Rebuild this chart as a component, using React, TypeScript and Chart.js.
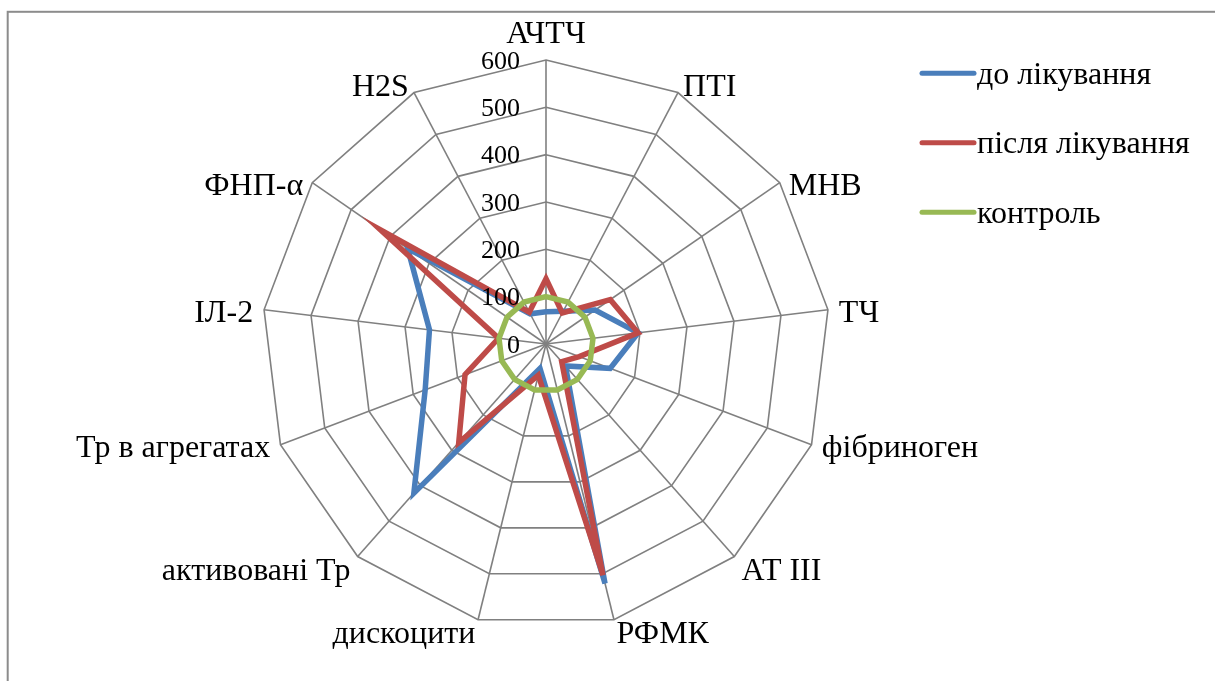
import React, { useEffect, useRef } from "react";
import { Chart, registerables } from "chart.js";

Chart.register(...registerables);

// Radar axes (clockwise from the top)
const categories: string[] = [
  "АЧТЧ",
  "ПТІ",
  "МНВ",
  "ТЧ",
  "фібриноген",
  "АТ III",
  "РФМК",
  "дискоцити",
  "активовані Тр",
  "Тр в агрегатах",
  "ІЛ-2",
  "ФНП-α",
  "H2S",
];

const beforeTreatment: number[] = [68, 78, 126, 196, 145, 62, 521, 53, 421, 273, 248, 355, 72];
const afterTreatment: number[] = [138, 74, 165, 196, 75, 50, 503, 68, 278, 183, 101, 425, 76];
const control: number[] = [100, 100, 100, 100, 100, 100, 100, 100, 100, 100, 100, 100, 100];

const seriesNames: string[] = ["до лікування", "після лікування", "контроль"];
const seriesColors: string[] = ["#4A7EBB", "#BE4B48", "#98B954"];

const tickValues: number[] = [0, 100, 200, 300, 400, 500, 600];
const axisMin = 0;
const axisMax = 600;
const axisStep = 100;

const SERIF = "'Times New Roman', 'Liberation Serif', serif";
const LABEL_SIZE = 32;
const TICK_SIZE = 26;

// Outer frame around the whole chart
const framePlugin = {
  id: "frame",
  beforeDraw(chart: any) {
    const ctx = chart.ctx;
    ctx.save();
    ctx.fillStyle = "#ffffff";
    ctx.fillRect(0, 0, chart.width, chart.height);
    ctx.strokeStyle = "#8c8c8c";
    ctx.lineWidth = 2;
    ctx.strokeRect(7.7, 11.8, chart.width + 50, chart.height + 50);
    ctx.restore();
  },
};

// Value labels placed to the left of the vertical axis
const tickLabelPlugin = {
  id: "tickLabels",
  afterDraw(chart: any) {
    const scale = chart.scales.r;
    const ctx = chart.ctx;
    ctx.save();
    ctx.font = `${TICK_SIZE}px ${SERIF}`;
    ctx.fillStyle = "#000000";
    ctx.textAlign = "right";
    ctx.textBaseline = "alphabetic";
    tickValues.forEach((v) => {
      const d = scale.getDistanceFromCenterForValue(v);
      const y = scale.yCenter - d;
      ctx.fillText(String(v), scale.xCenter - 26, y + TICK_SIZE * 0.33);
    });
    ctx.restore();
  },
};

// Category labels around the outer polygon
const pointLabelPlugin = {
  id: "pointLabelsOuter",
  afterDraw(chart: any) {
    const scale = chart.scales.r;
    const ctx = chart.ctx;
    ctx.save();
    ctx.font = `${LABEL_SIZE}px ${SERIF}`;
    ctx.fillStyle = "#000000";
    ctx.textBaseline = "alphabetic";
    const labels: string[] = chart.data.labels;
    labels.forEach((label, i) => {
      const vtx = scale.getPointPosition(i, scale.drawingArea);
      const pos = scale.getPointPosition(i, scale.drawingArea + 11);
      const a = vtx.angle + Math.PI / 2;
      const s = Math.sin(a);
      const c = Math.cos(a);
      let align: CanvasTextAlign = "center";
      let x = vtx.x;
      if (s > 0.05) {
        align = "left";
        x = pos.x;
      } else if (s < -0.05) {
        align = "right";
        x = pos.x;
      }
      let dy = 2;
      if (Math.abs(s) <= 0.05) dy = c > 0 ? -28 : 28;
      else if (c > 0.7) dy = -7;
      else if (c < -0.7) dy = 13;
      ctx.textAlign = align;
      ctx.fillText(label, x, vtx.y + dy + LABEL_SIZE * 0.33);
    });
    ctx.restore();
  },
};

// Legend on the right: short line sample plus series name
const legendPlugin = {
  id: "sideLegend",
  afterDraw(chart: any) {
    const ctx = chart.ctx;
    ctx.save();
    ctx.font = `${LABEL_SIZE}px ${SERIF}`;
    ctx.textAlign = "left";
    ctx.textBaseline = "alphabetic";
    chart.data.datasets.forEach((ds: any, i: number) => {
      const y = 73.3 + i * 69.5;
      ctx.strokeStyle = ds.borderColor;
      ctx.lineWidth = 5;
      ctx.lineCap = "round";
      ctx.beginPath();
      ctx.moveTo(922, y);
      ctx.lineTo(974, y);
      ctx.stroke();
      ctx.fillStyle = "#000000";
      ctx.fillText(ds.label, 977, y + 10.5);
    });
    ctx.restore();
  },
};

export default function App() {
  const canvasRef = useRef<HTMLCanvasElement | null>(null);

  useEffect(() => {
    if (!canvasRef.current) return;
    const datasets = [beforeTreatment, afterTreatment, control].map((values, i) => ({
      label: seriesNames[i],
      data: values,
      borderColor: seriesColors[i],
      backgroundColor: "transparent",
      borderWidth: 5.5,
      borderJoinStyle: "miter" as const,
      fill: false,
      pointRadius: 0,
      pointHoverRadius: 0,
      order: 3 - i,
    }));

    const chart = new Chart(canvasRef.current, {
      type: "radar",
      data: { labels: categories, datasets },
      options: {
        animation: false,
        responsive: false,
        maintainAspectRatio: false,
        layout: { padding: { left: 262, right: 385, top: 60, bottom: 53 } },
        elements: { line: { tension: 0 } },
        plugins: {
          legend: { display: false },
          tooltip: { enabled: false },
        },
        scales: {
          r: {
            min: axisMin,
            max: axisMax,
            beginAtZero: true,
            ticks: { stepSize: axisStep, display: false },
            pointLabels: { display: false },
            grid: { color: "#808080", lineWidth: 1.6 },
            angleLines: { color: "#808080", lineWidth: 1.6 },
          },
        },
      },
      plugins: [framePlugin, tickLabelPlugin, pointLabelPlugin, legendPlugin],
    });
    return () => chart.destroy();
  }, []);

  return (
    <div style={{ position: "fixed", left: 0, top: 0, width: 1215, height: 681, background: "#fff" }}>
      <canvas ref={canvasRef} width={1215} height={681} style={{ display: "block" }} />
    </div>
  );
}
